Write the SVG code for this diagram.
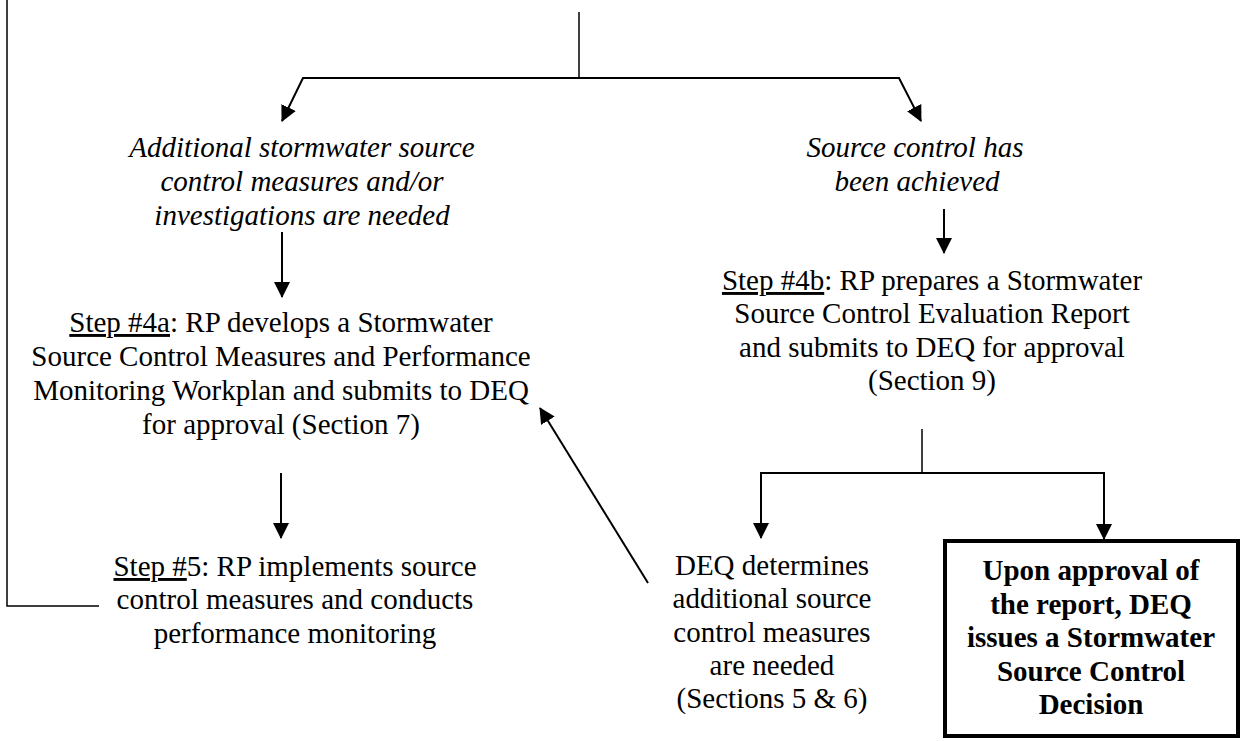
<svg xmlns="http://www.w3.org/2000/svg" width="1241" height="741" viewBox="0 0 1241 741">
<style>
  .t { font-family: "Liberation Serif", "Times New Roman", Tinos, serif; font-size: 29px; fill: #000; text-anchor: middle; }
  .i { font-style: italic; }
  .b { font-weight: bold; }
  .u { text-decoration: underline; }
  .ln { stroke: #000; stroke-width: 2; fill: none; }
  .thin { stroke: #000; stroke-width: 1.5; fill: none; }
</style>
<defs>
  <marker id="ah" viewBox="0 0 16 16" refX="15" refY="8" markerWidth="16" markerHeight="16" markerUnits="userSpaceOnUse" orient="auto-start-reverse">
    <path d="M0,0 L16,8 L0,16 z" fill="#000"/>
  </marker>
</defs>
<rect width="1241" height="741" fill="#fff"/>

<g id="connectors">
  <line class="thin" x1="579" y1="12" x2="579" y2="78"/>
  <polyline class="ln" points="282,121 303,78 899,78 921,121" marker-start="url(#ah)" marker-end="url(#ah)"/>
  <line class="ln" x1="282" y1="232" x2="282" y2="297" marker-end="url(#ah)"/>
  <line class="ln" x1="944" y1="209" x2="944" y2="253" marker-end="url(#ah)"/>
  <line class="ln" x1="281" y1="473" x2="281" y2="538" marker-end="url(#ah)"/>
  <polyline class="thin" points="7,0 7,606 99,606"/>
  <line class="thin" x1="922" y1="429" x2="922" y2="473"/>
  <polyline class="ln" points="761,538 761,473 1104,473 1104,539" marker-start="url(#ah)" marker-end="url(#ah)"/>
  <line class="ln" x1="648" y1="583" x2="540" y2="408" marker-end="url(#ah)"/>
</g>

<g id="node-additional">
  <text class="t i" x="302" y="157">Additional stormwater source</text>
  <text class="t i" x="302" y="191">control measures and/or</text>
  <text class="t i" x="302" y="225">investigations are needed</text>
</g>

<g id="node-achieved">
  <text class="t i" x="915" y="157">Source control has</text>
  <text class="t i" x="917" y="191">been achieved</text>
</g>

<g id="node-step4a">
  <text class="t" x="281" y="332"><tspan class="u">Step #4a</tspan>: RP develops a Stormwater</text>
  <text class="t" x="281" y="366">Source Control Measures and Performance</text>
  <text class="t" x="281" y="400">Monitoring Workplan and submits to DEQ</text>
  <text class="t" x="281" y="434">for approval (Section 7)</text>
</g>

<g id="node-step4b">
  <text class="t" x="932" y="290"><tspan class="u">Step #4b</tspan>: RP prepares a Stormwater</text>
  <text class="t" x="932" y="323">Source Control Evaluation Report</text>
  <text class="t" x="932" y="357">and submits to DEQ for approval</text>
  <text class="t" x="932" y="390">(Section 9)</text>
</g>

<g id="node-step5">
  <text class="t" x="295" y="576"><tspan class="u">Step #</tspan>5: RP implements source</text>
  <text class="t" x="295" y="609">control measures and conducts</text>
  <text class="t" x="295" y="643">performance monitoring</text>
</g>

<g id="node-deq-additional">
  <text class="t" x="772" y="575">DEQ determines</text>
  <text class="t" x="772" y="608">additional source</text>
  <text class="t" x="772" y="642">control measures</text>
  <text class="t" x="772" y="675">are needed</text>
  <text class="t" x="772" y="708">(Sections 5 &amp; 6)</text>
</g>

<g id="node-decision">
  <rect x="945" y="541" width="293" height="195" fill="none" stroke="#000" stroke-width="4"/>
  <text class="t b" x="1091" y="580">Upon approval of</text>
  <text class="t b" x="1091" y="614">the report, DEQ</text>
  <text class="t b" x="1091" y="647">issues a Stormwater</text>
  <text class="t b" x="1091" y="681">Source Control</text>
  <text class="t b" x="1091" y="714">Decision</text>
</g>
</svg>
